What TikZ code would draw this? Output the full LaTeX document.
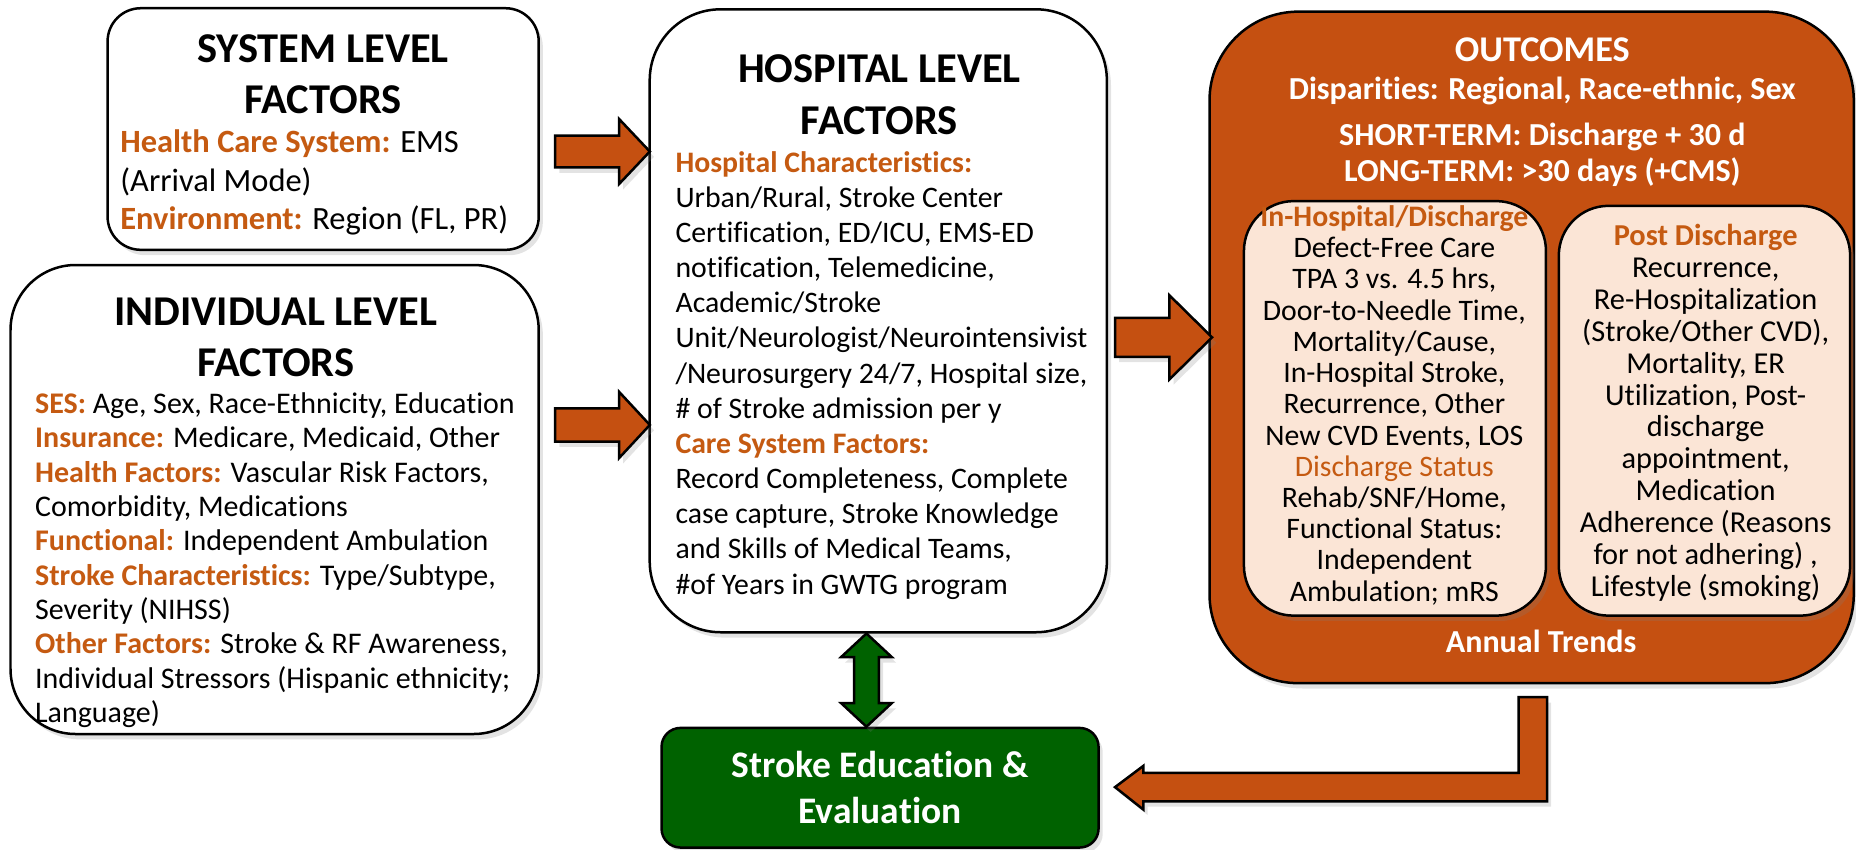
\documentclass[tikz,border=0pt]{standalone}
\usepackage{fontspec}
\setmainfont[Ligatures=NoCommon]{Carlito}
\usetikzlibrary{calc,shadows}
\definecolor{rust}{RGB}{197,80,17}
\definecolor{rusttext}{RGB}{197,90,17}
\definecolor{peach}{RGB}{251,229,214}
\definecolor{forest}{RGB}{0,98,0}
\newcommand\lbl[1]{\textcolor{rusttext}{\textbf{#1}}}
% horizontal block arrow: tail, tip, shaft half-width, head half-width, head length
\newcommand\harrow[5]{%
  \draw[blockarrow] ($(#1)+(0,-#3)$) -- ($(#2)+(-#5,-#3)$) -- ($(#2)+(-#5,-#4)$) -- (#2)
    -- ($(#2)+(-#5,#4)$) -- ($(#2)+(-#5,#3)$) -- ($(#1)+(0,#3)$) -- cycle;}
\begin{document}
\begin{tikzpicture}[x=0.01cm,y=-0.01cm,
  shade/.style={drop shadow={opacity=0.22, shadow xshift=0.035cm, shadow yshift=-0.045cm}},
  panel/.style={draw=black, line width=0.6pt, fill=white, inner sep=0pt, shade},
  innerpanel/.style={draw=black, line width=0.6pt, fill=peach, inner sep=0pt, rounded corners=0.42cm, shade},
  title/.style={inner sep=0pt, align=center, font=\fontsize{10.2}{12.3}\selectfont\bfseries},
  body/.style={inner sep=0pt, align=left, anchor=north west},
  whitetext/.style={inner sep=0pt, text=white, anchor=base, font=\fontsize{7.7}{9}\selectfont\bfseries},
  blockarrow/.style={draw=black, line width=0.6pt, fill=rust, shade},
  greenarrow/.style={draw=black, line width=0.6pt, fill=forest, shade}]
\useasboundingbox (0,0) rectangle (1568,718);

% ---------- system level ----------
\node[panel, rounded corners=0.28cm, minimum width=3.64cm, minimum height=2.04cm] (sys) at (273,109) {};
\node[title] (systitle) at (273,62.5) {SYSTEM LEVEL\\FACTORS};
\node[body, font=\fontsize{7.8}{9.25}\selectfont] (systext) at (101,109)
  {\lbl{Health Care System:} EMS\\
   (Arrival Mode)\\
   \lbl{Environment:} Region (FL, PR)};

% ---------- individual level ----------
\node[panel, rounded corners=0.55cm, minimum width=4.46cm, minimum height=3.96cm] (ind) at (232,422) {};
\node[title] (indtitle) at (233,285) {INDIVIDUAL LEVEL\\FACTORS};
\node[body, font=\fontsize{7.2}{8.25}\selectfont] (indtext) at (29,331)
  {\lbl{SES:} Age, Sex, Race-Ethnicity, Education\\
   \lbl{Insurance:} Medicare, Medicaid, Other\\
   \lbl{Health Factors:} Vascular Risk Factors,\\
   Comorbidity, Medications\\
   \lbl{Functional:} Independent Ambulation\\
   \lbl{Stroke Characteristics:} Type/Subtype,\\
   Severity (NIHSS)\\
   \lbl{Other Factors:} Stroke \& RF Awareness,\\
   Individual Stressors (Hispanic ethnicity;\\
   Language)};

% ---------- hospital level ----------
\node[panel, rounded corners=0.6cm, minimum width=3.86cm, minimum height=5.26cm] (hosp) at (742,271) {};
\node[title] (hosptitle) at (743,80) {HOSPITAL LEVEL\\FACTORS};
\node[body, font=\fontsize{7.15}{8.45}\selectfont] (hosptext) at (570,127)
  {\lbl{Hospital Characteristics:}\\
   Urban/Rural, Stroke Center\\
   Certification, ED/ICU, EMS-ED\\
   notification, Telemedicine,\\
   Academic/Stroke\\
   Unit/Neurologist/Neurointensivist\\
   /Neurosurgery 24/7, Hospital size,\\
   \# of Stroke admission per y\\
   \lbl{Care System Factors:}\\
   Record Completeness, Complete\\
   case capture, Stroke Knowledge\\
   and Skills of Medical Teams,\\
   \#of Years in GWTG program};

% ---------- outcomes ----------
\node[draw=black, line width=0.6pt, fill=rust, inner sep=0pt, rounded corners=0.75cm, shade,
      minimum width=5.44cm, minimum height=5.67cm] (out) at (1294,293.5) {};
\node[whitetext, font=\fontsize{8.7}{10}\selectfont\bfseries] (outtitle) at (1303,52) {OUTCOMES};
\node[whitetext] (outdisp) at (1303,84) {Disparities: Regional, Race-ethnic, Sex};
\node[whitetext] (outshort) at (1303,123) {SHORT-TERM: Discharge + 30 d};
\node[whitetext] (outlong) at (1303,153) {LONG-TERM: >30 days (+CMS)};

\node[innerpanel, minimum width=2.55cm, minimum height=3.5cm] (inh) at (1178.5,345) {};
\node[inner sep=0pt, align=center, anchor=north, font=\fontsize{7.15}{7.5}\selectfont] (inhtext) at (1178,173)
  {\lbl{In-Hospital/Discharge}\\
   Defect-Free Care\\
   TPA 3 vs. 4.5 hrs,\\
   Door-to-Needle Time,\\
   Mortality/Cause,\\
   In-Hospital Stroke,\\
   Recurrence, Other\\
   New CVD Events, LOS\\
   \textcolor{rusttext}{Discharge Status}\\
   Rehab/SNF/Home,\\
   Functional Status:\\
   Independent\\
   Ambulation; mRS};

\node[innerpanel, minimum width=2.46cm, minimum height=3.46cm] (post) at (1440,347) {};
\node[inner sep=0pt, align=center, anchor=north, font=\fontsize{7.3}{7.65}\selectfont] (posttext) at (1441,189)
  {\lbl{Post Discharge}\\
   Recurrence,\\
   Re-Hospitalization\\
   (Stroke/Other CVD),\\
   Mortality, ER\\
   Utilization, Post-\\
   discharge\\
   appointment,\\
   Medication\\
   Adherence (Reasons\\
   for not adhering) ,\\
   Lifestyle (smoking)};

\node[whitetext] (trends) at (1302,551) {Annual Trends};

% ---------- stroke education ----------
\node[draw=black, line width=0.6pt, fill=forest, rounded corners=0.16cm, inner sep=0pt, shade,
      minimum width=3.69cm, minimum height=1.01cm, text=white, align=center,
      font=\fontsize{9}{11.1}\selectfont\bfseries] (edu) at (743.5,665.5)
  {Stroke Education \&\\Evaluation};

% ---------- connectors ----------
\coordinate (a1s) at (469,128);  \coordinate (a1e) at (549,128);
\coordinate (a2s) at (469,359);  \coordinate (a2e) at (549,359);
\coordinate (a3s) at (942,285);  \coordinate (a3e) at (1024,285);
\harrow{a1s}{a1e}{13.5}{27.5}{26}
\harrow{a2s}{a2e}{14}{28}{26}
\harrow{a3s}{a3e}{16.5}{35.5}{36}

% two-way link between hospital factors and education
\coordinate (gA) at (hosp.south -| 732,0);
\coordinate (gB) at (edu.north -| 732,0);
\draw[greenarrow] (gA) -- ($(gA)+(21.5,20)$) -- ($(gA)+(10.5,20)$) -- ($(gB)+(10.5,-20)$)
  -- ($(gB)+(21.5,-20)$) -- (gB) -- ($(gB)+(-21.5,-20)$) -- ($(gB)+(-10.5,-20)$)
  -- ($(gA)+(-10.5,20)$) -- ($(gA)+(-21.5,20)$) -- cycle;

% feedback from outcomes down and back to education
\coordinate (eA) at (1295,589);
\coordinate (eB) at (942,665);
\draw[blockarrow] ($(eA)+(12,0)$) -- ($(eA|-eB)+(12,12)$) -- ($(eB)+(24,12)$) -- ($(eB)+(24,19)$)
  -- (eB) -- ($(eB)+(24,-18)$) -- ($(eB)+(24,-12)$) -- ($(eA|-eB)+(-12,-12)$)
  -- ($(eA)+(-12,0)$) -- cycle;
\end{tikzpicture}
\end{document}
